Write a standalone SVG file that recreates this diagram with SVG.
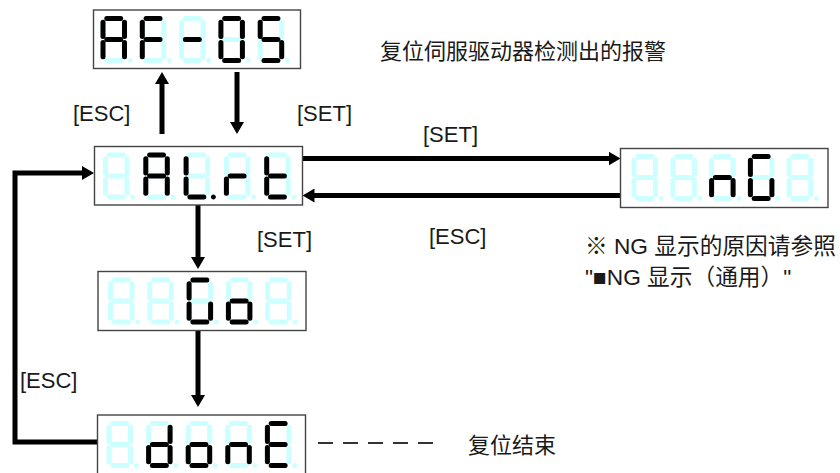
<svg xmlns="http://www.w3.org/2000/svg" xmlns:xlink="http://www.w3.org/1999/xlink" width="840" height="473" viewBox="0 0 840 473">
<style>
.box{fill:#fff;stroke:#444;stroke-width:1.4}
.off{stroke:#ccffff;fill:#ccffff}
.on{stroke:#000;fill:#000}
.t{font-family:"Liberation Sans","Noto Sans CJK SC",sans-serif;font-size:22px;fill:#1a1a1a}
.note{font-size:22.7px}
.con{fill:none;stroke:#000;stroke-width:5}
</style>
<defs>
<line id="sa" x1="6.3" y1="2.5" x2="20.2" y2="2.5" stroke-width="5" stroke-linecap="round"/>
<line id="sb" x1="24" y1="6.3" x2="24" y2="20.4" stroke-width="5" stroke-linecap="round"/>
<line id="sc" x1="24" y1="26.6" x2="24" y2="40.7" stroke-width="5" stroke-linecap="round"/>
<line id="sd" x1="6.3" y1="44.5" x2="20.2" y2="44.5" stroke-width="5" stroke-linecap="round"/>
<line id="se" x1="2.5" y1="26.6" x2="2.5" y2="40.7" stroke-width="5" stroke-linecap="round"/>
<line id="sf" x1="2.5" y1="6.3" x2="2.5" y2="20.4" stroke-width="5" stroke-linecap="round"/>
<line id="sg" x1="6.3" y1="23.5" x2="20.2" y2="23.5" stroke-width="5" stroke-linecap="round"/>
<circle id="sp" cx="29.8" cy="44.5" r="2" stroke-width="1"/>
<g id="d8" class="off">
<use href="#sa"/><use href="#sb"/><use href="#sc"/><use href="#sd"/><use href="#se"/><use href="#sf"/><use href="#sg"/><use href="#sp"/>
</g>
<marker id="ah" markerUnits="userSpaceOnUse" markerWidth="12" markerHeight="14" viewBox="0 0 12 14" refX="1" refY="7" orient="auto">
<path d="M0,0 L12,7 L0,14 z" fill="#000"/>
</marker>
</defs>

<g id="connectors">
<line class="con" x1="162" y1="134" x2="162" y2="83" marker-end="url(#ah)"/>
<line class="con" x1="237" y1="72" x2="237" y2="123" marker-end="url(#ah)"/>
<line class="con" x1="302.5" y1="158.5" x2="609.5" y2="158.5" marker-end="url(#ah)"/>
<line class="con" x1="620.5" y1="195.5" x2="313.5" y2="195.5" marker-end="url(#ah)"/>
<line class="con" x1="198" y1="205" x2="198" y2="258" marker-end="url(#ah)"/>
<line class="con" x1="198" y1="330.5" x2="198" y2="396" marker-end="url(#ah)"/>
<polyline class="con" points="97.5,442 15,442 15,173 83,173" marker-end="url(#ah)"/>
<line x1="318" y1="443" x2="433" y2="443" stroke="#333" stroke-width="1.8" stroke-dasharray="15 10"/>
</g>

<g id="node-AF05">
<rect class="box" x="93.5" y="10" width="207" height="58.5"/>
<g transform="translate(100.5,16)"><use href="#d8"/><use class="on" href="#sa"/><use class="on" href="#sb"/><use class="on" href="#sc"/><use class="on" href="#se"/><use class="on" href="#sf"/><use class="on" href="#sg"/></g>
<g transform="translate(139.8,16)"><use href="#d8"/><use class="on" href="#sa"/><use class="on" href="#se"/><use class="on" href="#sf"/><use class="on" href="#sg"/></g>
<g transform="translate(179.1,16)"><use href="#d8"/><use class="on" href="#sg"/></g>
<g transform="translate(218.4,16)"><use href="#d8"/><use class="on" href="#sa"/><use class="on" href="#sb"/><use class="on" href="#sc"/><use class="on" href="#sd"/><use class="on" href="#se"/><use class="on" href="#sf"/></g>
<g transform="translate(257.7,16)"><use href="#d8"/><use class="on" href="#sa"/><use class="on" href="#sc"/><use class="on" href="#sd"/><use class="on" href="#sf"/><use class="on" href="#sg"/></g>
</g>

<g id="node-ALrt">
<rect class="box" x="94.5" y="146.5" width="208" height="58.5"/>
<g transform="translate(103,152.5)"><use href="#d8"/></g>
<g transform="translate(143.3,152.5)"><use href="#d8"/><use class="on" href="#sa"/><use class="on" href="#sb"/><use class="on" href="#sc"/><use class="on" href="#se"/><use class="on" href="#sf"/><use class="on" href="#sg"/></g>
<g transform="translate(183.6,152.5)"><use href="#d8"/><use class="on" href="#sd"/><use class="on" href="#se"/><use class="on" href="#sf"/><use class="on" href="#sp"/></g>
<g transform="translate(223.9,152.5)"><use href="#d8"/><use class="on" href="#se"/><use class="on" href="#sg"/></g>
<g transform="translate(264.2,152.5)"><use href="#d8"/><use class="on" href="#sd"/><use class="on" href="#se"/><use class="on" href="#sf"/><use class="on" href="#sg"/></g>
</g>

<g id="node-nG">
<rect class="box" x="620.5" y="148.5" width="207.5" height="59"/>
<g transform="translate(631.5,154)"><use href="#d8"/></g>
<g transform="translate(670.3,154)"><use href="#d8"/></g>
<g transform="translate(709.1,154)"><use href="#d8"/><use class="on" href="#sc"/><use class="on" href="#se"/><use class="on" href="#sg"/></g>
<g transform="translate(747.9,154)"><use href="#d8"/><use class="on" href="#sa"/><use class="on" href="#sc"/><use class="on" href="#sd"/><use class="on" href="#se"/><use class="on" href="#sf"/></g>
<g transform="translate(786.7,154)"><use href="#d8"/></g>
</g>

<g id="node-Go">
<rect class="box" x="98" y="271.5" width="208" height="59"/>
<g transform="translate(108,277.5)"><use href="#d8"/></g>
<g transform="translate(147.3,277.5)"><use href="#d8"/></g>
<g transform="translate(186.6,277.5)"><use href="#d8"/><use class="on" href="#sa"/><use class="on" href="#sc"/><use class="on" href="#sd"/><use class="on" href="#se"/><use class="on" href="#sf"/></g>
<g transform="translate(225.9,277.5)"><use href="#d8"/><use class="on" href="#sc"/><use class="on" href="#sd"/><use class="on" href="#se"/><use class="on" href="#sg"/></g>
<g transform="translate(265.2,277.5)"><use href="#d8"/></g>
</g>

<g id="node-donE">
<rect class="box" x="97.5" y="415" width="208" height="59"/>
<g transform="translate(106.5,421)"><use href="#d8"/></g>
<g transform="translate(146.1,421)"><use href="#d8"/><use class="on" href="#sb"/><use class="on" href="#sc"/><use class="on" href="#sd"/><use class="on" href="#se"/><use class="on" href="#sg"/></g>
<g transform="translate(185.7,421)"><use href="#d8"/><use class="on" href="#sc"/><use class="on" href="#sd"/><use class="on" href="#se"/><use class="on" href="#sg"/></g>
<g transform="translate(225.3,421)"><use href="#d8"/><use class="on" href="#sc"/><use class="on" href="#se"/><use class="on" href="#sg"/></g>
<g transform="translate(264.9,421)"><use href="#d8"/><use class="on" href="#sa"/><use class="on" href="#sd"/><use class="on" href="#se"/><use class="on" href="#sf"/><use class="on" href="#sg"/></g>
</g>

<g id="labels">
<text class="t" x="380" y="59">复位伺服驱动器检测出的报警</text>
<text class="t" x="73" y="121">[ESC]</text>
<text class="t" x="297" y="121">[SET]</text>
<text class="t" x="423" y="142">[SET]</text>
<text class="t" x="257" y="247">[SET]</text>
<text class="t" x="429" y="244">[ESC]</text>
<text class="t note" x="585" y="254">※ NG 显示的原因请参照</text>
<text class="t note" x="585" y="285">"■NG 显示（通用）"</text>
<text class="t" x="20" y="388">[ESC]</text>
<text class="t" x="468" y="453">复位结束</text>
</g>
</svg>
